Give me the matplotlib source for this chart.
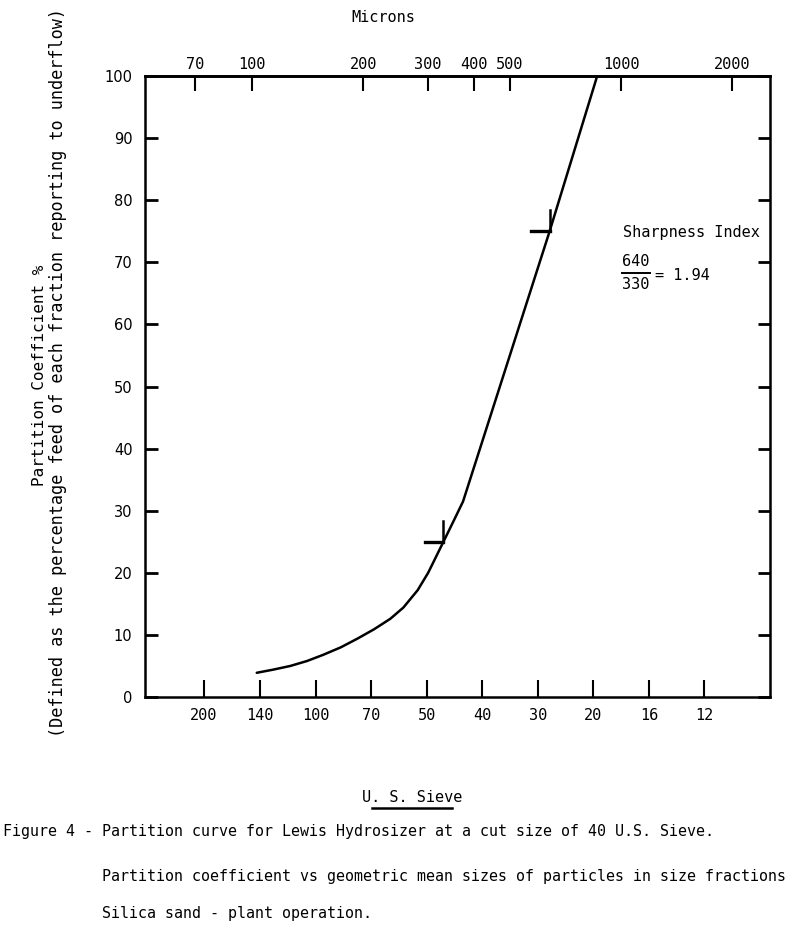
import matplotlib
matplotlib.use("Agg")
import matplotlib.pyplot as plt
from matplotlib.lines import Line2D
import matplotlib.ticker as mticker

# ---- data ----
# geometric mean particle size (microns) vs partition coefficient (%)
size_um = [103, 114, 127, 141, 156, 174, 193, 214, 237, 257, 281, 300, 330, 352, 373, 640, 861]
partition = [3.9, 4.4, 5.0, 5.8, 6.8, 8.0, 9.4, 10.9, 12.6, 14.4, 17.2, 20.0, 25.0, 28.4, 31.5, 75.0, 100.0]

d25, d75 = 330, 640
frac_num, frac_den = "640", "330"
sharpness_text = "= 1.94"

micron_ticks = [70, 100, 200, 300, 400, 500, 1000, 2000]
sieve_labels = ["200", "140", "100", "70", "50", "40", "30", "20", "16", "12"]
sieve_microns = [74, 105, 149, 210, 297, 420, 595, 841, 1190, 1680]
y_ticks = [0, 10, 20, 30, 40, 50, 60, 70, 80, 90, 100]

MONO = "DejaVu Sans Mono"

fig = plt.figure(figsize=(8, 9.3), dpi=100)
ax = fig.add_axes([145/800, 1-697/930, (770-145)/800, (697-76)/930])

ax.plot(size_um, partition, color="black", lw=1.8, solid_capstyle="round")

# quartile markers
for d, p in [(d25, 25), (d75, 75)]:
    ax.plot([d * 10**(-0.05), d], [p, p], color="black", lw=2.4)
    ax.plot([d, d], [p, p + 3.4], color="black", lw=1.8)

ax.set_xscale("log")
ax.set_xlim(51.3, 2530)
ax.set_ylim(0, 100)

ax.set_xticks(sieve_microns)
ax.set_xticklabels(sieve_labels, fontfamily=MONO, fontsize=11)
ax.xaxis.set_minor_locator(mticker.NullLocator())
ax.tick_params(axis="x", which="major", direction="in", length=12, width=1.5, pad=8)

ax.set_yticks(y_ticks)
ax.set_yticklabels([str(v) for v in y_ticks], fontsize=10.5)
ax.tick_params(axis="y", which="major", direction="in", length=9, width=2, pad=9,
               right=True)

top = ax.secondary_xaxis("top")
top.set_xticks(micron_ticks)
top.set_xticklabels([str(v) for v in micron_ticks], fontfamily=MONO, fontsize=11)
top.xaxis.set_minor_locator(mticker.NullLocator())
top.tick_params(axis="x", direction="in", length=11, width=1.5, pad=3)
top.spines["top"].set_linewidth(2)

for s in ax.spines.values():
    s.set_linewidth(1.8)

fig.text(383/800, 1-18/930, "Microns", ha="center", va="center", fontfamily=MONO, fontsize=11)

fig.text(40/800, 1-375/930, "Partition Coefficient %", rotation=90, ha="center", va="center",
         fontfamily=MONO, fontsize=11.5)
fig.text(58/800, 1-372/930,
         "(Defined as the percentage feed of each fraction reporting to underflow)",
         rotation=90, ha="center", va="center", fontfamily=MONO, fontsize=12.2)

# sharpness index annotation
fig.text(623/800, 1-233/930, "Sharpness Index", ha="left", va="center",
         fontfamily=MONO, fontsize=11)
fig.text(636/800, 1-262/930, frac_num, ha="center", va="center", fontfamily=MONO, fontsize=11)
fig.text(636/800, 1-284/930, frac_den, ha="center", va="center", fontfamily=MONO, fontsize=11)
fig.add_artist(Line2D([622/800, 650/800], [1-273/930, 1-273/930], color="black", lw=1.4))
fig.text(655/800, 1-275/930, sharpness_text, ha="left", va="center",
         fontfamily=MONO, fontsize=11)

fig.text(412/800, 1-797/930, "U. S. Sieve", ha="center", va="center",
         fontfamily=MONO, fontsize=11)
fig.add_artist(Line2D([372/800, 452/800], [1-808/930, 1-808/930], color="black", lw=1.8))

fig.text(3/800, 1-831/930,
         "Figure 4 - Partition curve for Lewis Hydrosizer at a cut size of 40 U.S. Sieve.",
         ha="left", va="center", fontfamily=MONO, fontsize=10.8)
fig.text(102/800, 1-876/930,
         "Partition coefficient vs geometric mean sizes of particles in size fractions",
         ha="left", va="center", fontfamily=MONO, fontsize=10.8)
fig.text(102/800, 1-913/930, "Silica sand - plant operation.",
         ha="left", va="center", fontfamily=MONO, fontsize=10.8)

fig.savefig("out.png", dpi=100)
